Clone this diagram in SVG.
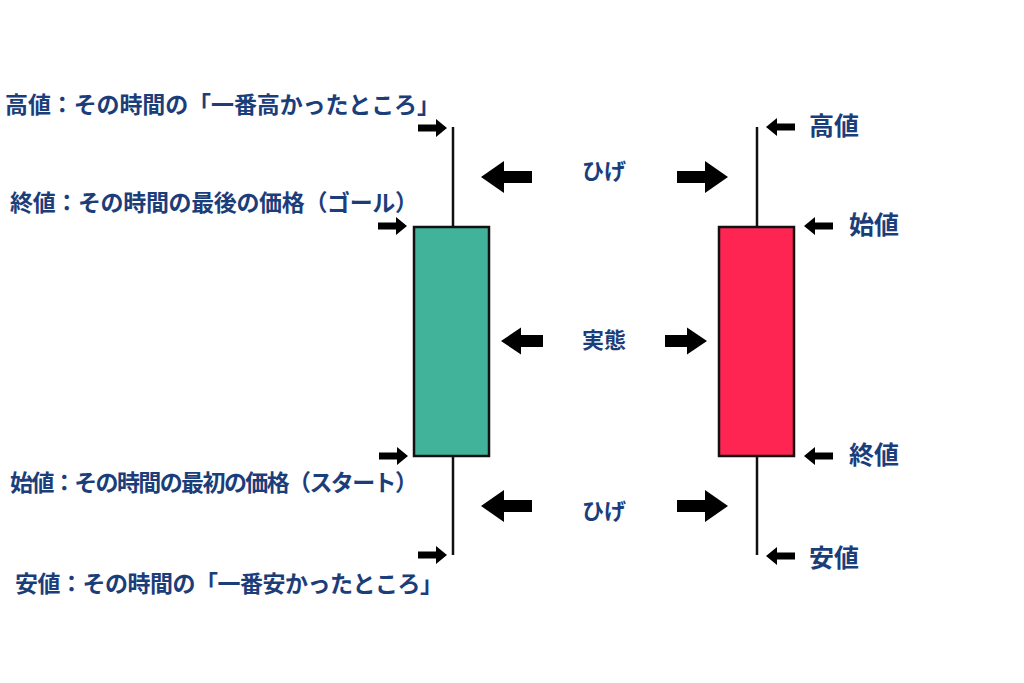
<svg xmlns="http://www.w3.org/2000/svg" width="1024" height="683" viewBox="0 0 1024 683">
<style>
.lbl{font-family:"Noto Sans CJK JP","Noto Sans",sans-serif;font-weight:bold;fill:#1b3e7a;}
.l{font-size:23px;}
.r{font-size:25px;}
.c{font-size:22px;text-anchor:middle;}
.wick{stroke:#111;stroke-width:2.5;}
.body{stroke:#111;stroke-width:2.5;}
.arr{fill:#000;}
</style>
<defs>
<path id="bigR" d="M0,-6 H28 V-16 L51,0 L28,16 V6 H0 Z"/>
<path id="midR" d="M0,-6 H22 V-13.5 L42,0 L22,13.5 V6 H0 Z"/>
<path id="smR" d="M0,-3.5 H18 V-9 L29,0 L18,9 V3.5 H0 Z"/>
</defs>
<rect width="1024" height="683" fill="#fff"/>
<g id="candle-bear">
<line class="wick" x1="453" y1="127" x2="453" y2="555"/>
<rect class="body" x="414" y="227" width="75" height="229" fill="#41b39a"/>
</g>
<g id="candle-bull">
<line class="wick" x1="757" y1="127" x2="757" y2="555"/>
<rect class="body" x="719" y="227" width="75" height="229" fill="#fe2553"/>
</g>
<g id="connectors" class="arr">
<use href="#smR" transform="translate(418,128)"/>
<use href="#smR" transform="translate(378,226)"/>
<use href="#smR" transform="translate(379,456)"/>
<use href="#smR" transform="translate(418,555)"/>
<use href="#smR" transform="translate(795,127) scale(-1,1)"/>
<use href="#smR" transform="translate(833,226) scale(-1,1)"/>
<use href="#smR" transform="translate(833,456) scale(-1,1)"/>
<use href="#smR" transform="translate(795,556) scale(-1,1)"/>
<use href="#bigR" transform="translate(532,177) scale(-1,1)"/>
<use href="#bigR" transform="translate(677,177)"/>
<use href="#bigR" transform="translate(532,506) scale(-1,1)"/>
<use href="#bigR" transform="translate(677,506)"/>
<use href="#midR" transform="translate(543,341) scale(-1,1)"/>
<use href="#midR" transform="translate(665,341)"/>
</g>
<g id="label-high-left"><text class="lbl l" x="5" y="113" textLength="435">高値：その時間の「一番高かったところ」</text></g>
<g id="label-close-left"><text class="lbl l" x="10" y="211" textLength="408">終値：その時間の最後の価格（ゴール）</text></g>
<g id="label-open-left"><text class="lbl l" x="10" y="491" textLength="408">始値：その時間の最初の価格（スタート）</text></g>
<g id="label-low-left"><text class="lbl l" x="15" y="592" textLength="428">安値：その時間の「一番安かったところ」</text></g>
<g id="label-high-right"><text class="lbl r" x="809" y="135">高値</text></g>
<g id="label-open-right"><text class="lbl r" x="849" y="234">始値</text></g>
<g id="label-close-right"><text class="lbl r" x="849" y="464">終値</text></g>
<g id="label-low-right"><text class="lbl r" x="809" y="567">安値</text></g>
<g id="label-wick-top"><text class="lbl c" x="604" y="179">ひげ</text></g>
<g id="label-body"><text class="lbl c" x="604" y="348">実態</text></g>
<g id="label-wick-bottom"><text class="lbl c" x="604" y="519">ひげ</text></g>
</svg>
